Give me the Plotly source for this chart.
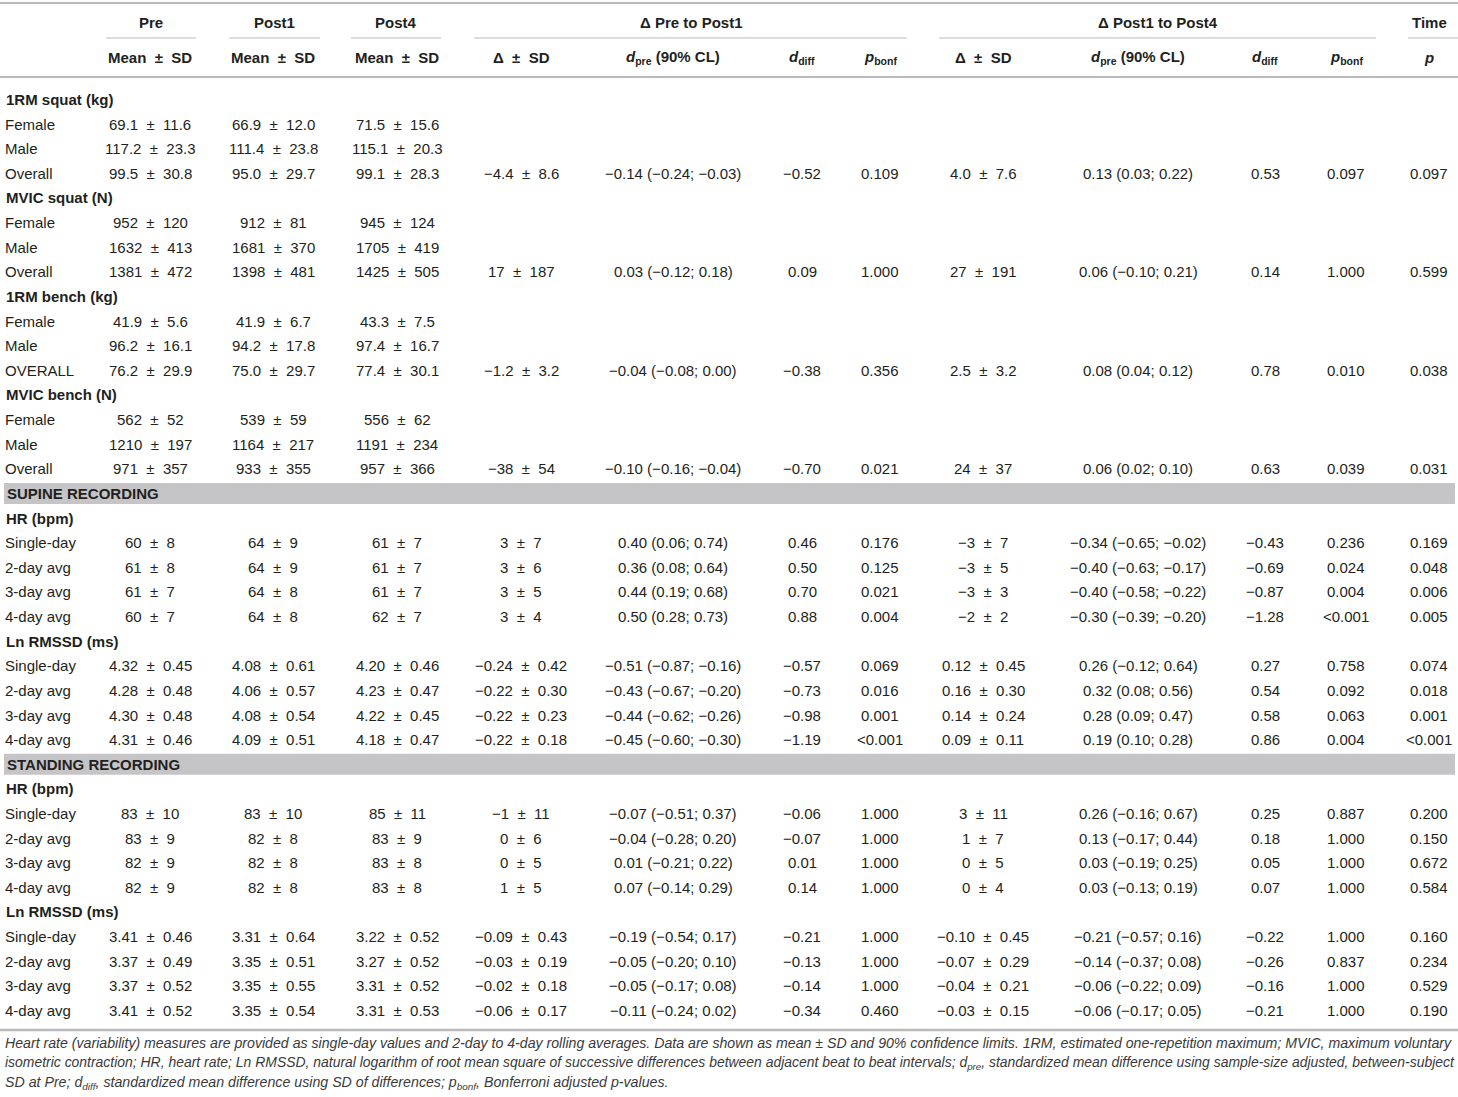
import plotly.graph_objects as go

# ---------------- data ----------------
row_labels = ["1RM squat (kg)", "Female", "Male", "Overall",
              "MVIC squat (N)", "Female", "Male", "Overall",
              "1RM bench (kg)", "Female", "Male", "OVERALL",
              "MVIC bench (N)", "Female", "Male", "Overall",
              "SUPINE RECORDING",
              "HR (bpm)", "Single-day", "2-day avg", "3-day avg", "4-day avg",
              "Ln RMSSD (ms)", "Single-day", "2-day avg", "3-day avg", "4-day avg",
              "STANDING RECORDING",
              "HR (bpm)", "Single-day", "2-day avg", "3-day avg", "4-day avg",
              "Ln RMSSD (ms)", "Single-day", "2-day avg", "3-day avg", "4-day avg"]

row_kind = (["group", "data", "data", "data"] * 4 + ["section"]
            + ["group", "data", "data", "data", "data"] * 2 + ["section"]
            + ["group", "data", "data", "data", "data"] * 2)

pre = ["", "69.1 ± 11.6", "117.2 ± 23.3", "99.5 ± 30.8", "", "952 ± 120", "1632 ± 413", "1381 ± 472",
       "", "41.9 ± 5.6", "96.2 ± 16.1", "76.2 ± 29.9", "", "562 ± 52", "1210 ± 197", "971 ± 357",
       "", "", "60 ± 8", "61 ± 8", "61 ± 7", "60 ± 7",
       "", "4.32 ± 0.45", "4.28 ± 0.48", "4.30 ± 0.48", "4.31 ± 0.46",
       "", "", "83 ± 10", "83 ± 9", "82 ± 9", "82 ± 9",
       "", "3.41 ± 0.46", "3.37 ± 0.49", "3.37 ± 0.52", "3.41 ± 0.52"]

post1 = ["", "66.9 ± 12.0", "111.4 ± 23.8", "95.0 ± 29.7", "", "912 ± 81", "1681 ± 370", "1398 ± 481",
         "", "41.9 ± 6.7", "94.2 ± 17.8", "75.0 ± 29.7", "", "539 ± 59", "1164 ± 217", "933 ± 355",
         "", "", "64 ± 9", "64 ± 9", "64 ± 8", "64 ± 8",
         "", "4.08 ± 0.61", "4.06 ± 0.57", "4.08 ± 0.54", "4.09 ± 0.51",
         "", "", "83 ± 10", "82 ± 8", "82 ± 8", "82 ± 8",
         "", "3.31 ± 0.64", "3.35 ± 0.51", "3.35 ± 0.55", "3.35 ± 0.54"]

post4 = ["", "71.5 ± 15.6", "115.1 ± 20.3", "99.1 ± 28.3", "", "945 ± 124", "1705 ± 419", "1425 ± 505",
         "", "43.3 ± 7.5", "97.4 ± 16.7", "77.4 ± 30.1", "", "556 ± 62", "1191 ± 234", "957 ± 366",
         "", "", "61 ± 7", "61 ± 7", "61 ± 7", "62 ± 7",
         "", "4.20 ± 0.46", "4.23 ± 0.47", "4.22 ± 0.45", "4.18 ± 0.47",
         "", "", "85 ± 11", "83 ± 9", "83 ± 8", "83 ± 8",
         "", "3.22 ± 0.52", "3.27 ± 0.52", "3.31 ± 0.52", "3.31 ± 0.53"]

d1_sd = ["", "", "", "−4.4 ± 8.6", "", "", "", "17 ± 187", "", "", "", "−1.2 ± 3.2", "", "", "", "−38 ± 54",
         "", "", "3 ± 7", "3 ± 6", "3 ± 5", "3 ± 4",
         "", "−0.24 ± 0.42", "−0.22 ± 0.30", "−0.22 ± 0.23", "−0.22 ± 0.18",
         "", "", "−1 ± 11", "0 ± 6", "0 ± 5", "1 ± 5",
         "", "−0.09 ± 0.43", "−0.03 ± 0.19", "−0.02 ± 0.18", "−0.06 ± 0.17"]

d1_dpre = ["", "", "", "−0.14 (−0.24; −0.03)", "", "", "", "0.03 (−0.12; 0.18)",
           "", "", "", "−0.04 (−0.08; 0.00)", "", "", "", "−0.10 (−0.16; −0.04)",
           "", "", "0.40 (0.06; 0.74)", "0.36 (0.08; 0.64)", "0.44 (0.19; 0.68)", "0.50 (0.28; 0.73)",
           "", "−0.51 (−0.87; −0.16)", "−0.43 (−0.67; −0.20)", "−0.44 (−0.62; −0.26)", "−0.45 (−0.60; −0.30)",
           "", "", "−0.07 (−0.51; 0.37)", "−0.04 (−0.28; 0.20)", "0.01 (−0.21; 0.22)", "0.07 (−0.14; 0.29)",
           "", "−0.19 (−0.54; 0.17)", "−0.05 (−0.20; 0.10)", "−0.05 (−0.17; 0.08)", "−0.11 (−0.24; 0.02)"]

d1_ddiff = ["", "", "", "−0.52", "", "", "", "0.09", "", "", "", "−0.38", "", "", "", "−0.70",
            "", "", "0.46", "0.50", "0.70", "0.88",
            "", "−0.57", "−0.73", "−0.98", "−1.19",
            "", "", "−0.06", "−0.07", "0.01", "0.14",
            "", "−0.21", "−0.13", "−0.14", "−0.34"]

d1_pbonf = ["", "", "", "0.109", "", "", "", "1.000", "", "", "", "0.356", "", "", "", "0.021",
            "", "", "0.176", "0.125", "0.021", "0.004",
            "", "0.069", "0.016", "0.001", "<0.001",
            "", "", "1.000", "1.000", "1.000", "1.000",
            "", "1.000", "1.000", "1.000", "0.460"]

d2_sd = ["", "", "", "4.0 ± 7.6", "", "", "", "27 ± 191", "", "", "", "2.5 ± 3.2", "", "", "", "24 ± 37",
         "", "", "−3 ± 7", "−3 ± 5", "−3 ± 3", "−2 ± 2",
         "", "0.12 ± 0.45", "0.16 ± 0.30", "0.14 ± 0.24", "0.09 ± 0.11",
         "", "", "3 ± 11", "1 ± 7", "0 ± 5", "0 ± 4",
         "", "−0.10 ± 0.45", "−0.07 ± 0.29", "−0.04 ± 0.21", "−0.03 ± 0.15"]

d2_dpre = ["", "", "", "0.13 (0.03; 0.22)", "", "", "", "0.06 (−0.10; 0.21)",
           "", "", "", "0.08 (0.04; 0.12)", "", "", "", "0.06 (0.02; 0.10)",
           "", "", "−0.34 (−0.65; −0.02)", "−0.40 (−0.63; −0.17)", "−0.40 (−0.58; −0.22)", "−0.30 (−0.39; −0.20)",
           "", "0.26 (−0.12; 0.64)", "0.32 (0.08; 0.56)", "0.28 (0.09; 0.47)", "0.19 (0.10; 0.28)",
           "", "", "0.26 (−0.16; 0.67)", "0.13 (−0.17; 0.44)", "0.03 (−0.19; 0.25)", "0.03 (−0.13; 0.19)",
           "", "−0.21 (−0.57; 0.16)", "−0.14 (−0.37; 0.08)", "−0.06 (−0.22; 0.09)", "−0.06 (−0.17; 0.05)"]

d2_ddiff = ["", "", "", "0.53", "", "", "", "0.14", "", "", "", "0.78", "", "", "", "0.63",
            "", "", "−0.43", "−0.69", "−0.87", "−1.28",
            "", "0.27", "0.54", "0.58", "0.86",
            "", "", "0.25", "0.18", "0.05", "0.07",
            "", "−0.22", "−0.26", "−0.16", "−0.21"]

d2_pbonf = ["", "", "", "0.097", "", "", "", "1.000", "", "", "", "0.010", "", "", "", "0.039",
            "", "", "0.236", "0.024", "0.004", "<0.001",
            "", "0.758", "0.092", "0.063", "0.004",
            "", "", "0.887", "1.000", "1.000", "1.000",
            "", "1.000", "0.837", "1.000", "1.000"]

time_p = ["", "", "", "0.097", "", "", "", "0.599", "", "", "", "0.038", "", "", "", "0.031",
          "", "", "0.169", "0.048", "0.006", "0.005",
          "", "0.074", "0.018", "0.001", "<0.001",
          "", "", "0.200", "0.150", "0.672", "0.584",
          "", "0.160", "0.234", "0.529", "0.190"]

group_headers = ["Pre", "Post1", "Post4", "Δ Pre to Post1", "Δ Post1 to Post4", "Time"]
sub_headers = ["Mean ± SD", "Mean ± SD", "Mean ± SD",
               "Δ ± SD", "<i>d</i><sub>pre</sub> (90% CL)", "<i>d</i><sub>diff</sub>", "<i>p</i><sub>bonf</sub>",
               "Δ ± SD", "<i>d</i><sub>pre</sub> (90% CL)", "<i>d</i><sub>diff</sub>", "<i>p</i><sub>bonf</sub>",
               "<i>p</i>"]

footnote_lines = [
    "Heart rate (variability) measures are provided as single-day values and 2-day to 4-day rolling averages. "
    "Data are shown as mean ± SD and 90% confidence limits. 1RM, estimated one-repetition maximum; MVIC, maximum voluntary",
    "isometric contraction; HR, heart rate; Ln RMSSD, natural logarithm of root mean square of successive differences "
    "between adjacent beat to beat intervals; d<sub>pre</sub>, standardized mean difference using sample-size adjusted, between-subject",
    "SD at Pre; d<sub>diff</sub>, standardized mean difference using SD of differences; p<sub>bonf</sub>, Bonferroni adjusted p-values.",
]

# ---------------- layout constants ----------------
W, H = 1458, 1097
FONT = "Liberation Sans, Arial, sans-serif"
TXT = "#231f20"
LINE = "#b9b9bb"
BAND = "#c5c5c8"
FS = 15

col_x = [150, 273, 397, 521, 673, 802, 880, 983, 1138, 1265, 1346, 1429]
columns = [pre, post1, post4, d1_sd, d1_dpre, d1_ddiff, d1_pbonf,
           d2_sd, d2_dpre, d2_ddiff, d2_pbonf, time_p]
group_spans = [(106, 196), (229, 320), (351, 441), (474, 907), (939, 1376), (1408, 1458)]

ROW0, STEP = 99.5, 24.62
row_y = [ROW0 + i * STEP for i in range(len(row_labels))]
HDR1_Y, HDR2_Y = 22, 57
FOOT_Y = [1043, 1063, 1083]
FOOT_FS = [14.15, 13.95, 14.2]   # approximate the justified lines of the original


def fmt(s):
    if "<sub>" not in s and "<i>" not in s:
        s = s.replace("<", "&lt;")
    return s.replace(" ± ", "\u00a0\u00a0±\u00a0\u00a0")


fig = go.Figure()
fig.add_trace(go.Scatter(x=[0, W], y=[0, H], mode="markers",
                         marker=dict(opacity=0), hoverinfo="skip", showlegend=False))

ann = []
shapes = []

# horizontal rules
shapes.append(dict(type="line", xref="x", yref="y", x0=0, x1=W, y0=3, y1=3,
                   line=dict(color=LINE, width=2)))
shapes.append(dict(type="line", xref="x", yref="y", x0=0, x1=W, y0=77, y1=77,
                   line=dict(color=LINE, width=2)))
shapes.append(dict(type="line", xref="x", yref="y", x0=0, x1=W, y0=1030, y1=1030,
                   line=dict(color=LINE, width=2.5)))
for (a, b) in group_spans:
    shapes.append(dict(type="line", xref="x", yref="y", x0=a, x1=b, y0=38, y1=38,
                       line=dict(color=LINE, width=1.2)))

# header texts
for (a, b), t in zip(group_spans, group_headers):
    cx = (a + b) / 2 if t != "Time" else col_x[-1]
    ann.append(dict(x=cx, y=HDR1_Y, text="<b>%s</b>" % t, xanchor="center", yanchor="middle"))
for cx, t in zip(col_x, sub_headers):
    ann.append(dict(x=cx, y=HDR2_Y, text="<b>%s</b>" % fmt(t), xanchor="center", yanchor="middle"))

# body
for i, (lab, kind) in enumerate(zip(row_labels, row_kind)):
    y = row_y[i]
    if kind == "section":
        shapes.append(dict(type="rect", xref="x", yref="y", x0=4, x1=1455, y0=y - 10.5, y1=y + 10.5,
                           fillcolor=BAND, line=dict(width=0), layer="below"))
        ann.append(dict(x=5, y=y, text="<b>%s</b>" % lab, xanchor="left", yanchor="middle"))
    elif kind == "group":
        ann.append(dict(x=4, y=y, text="<b>%s</b>" % lab, xanchor="left", yanchor="middle"))
    else:
        ann.append(dict(x=3, y=y, text=lab, xanchor="left", yanchor="middle"))
    for cx, col in zip(col_x, columns):
        v = col[i]
        if v:
            ann.append(dict(x=cx, y=y, text=fmt(v), xanchor="center", yanchor="middle"))

for a in ann:
    a.update(xref="x", yref="y", showarrow=False, font=dict(family=FONT, size=FS, color=TXT))

# footnote
for y, t, fs in zip(FOOT_Y, footnote_lines, FOOT_FS):
    ann.append(dict(x=3, y=y, xref="x", yref="y", text="<i>%s</i>" % t, showarrow=False,
                    xanchor="left", yanchor="middle",
                    font=dict(family=FONT, size=fs, color="#3a3a3a")))

fig.update_layout(
    width=W, height=H,
    margin=dict(l=0, r=0, t=0, b=0),
    paper_bgcolor="white", plot_bgcolor="white",
    xaxis=dict(range=[0, W], visible=False, fixedrange=True),
    yaxis=dict(range=[H, 0], visible=False, fixedrange=True),
    annotations=ann, shapes=shapes, showlegend=False,
)

fig.write_html(
    "out.html",
    config={"displayModeBar": False},
    post_script="document.body.style.margin='0';document.body.style.padding='0';"
                "document.body.style.overflow='hidden';",
)
